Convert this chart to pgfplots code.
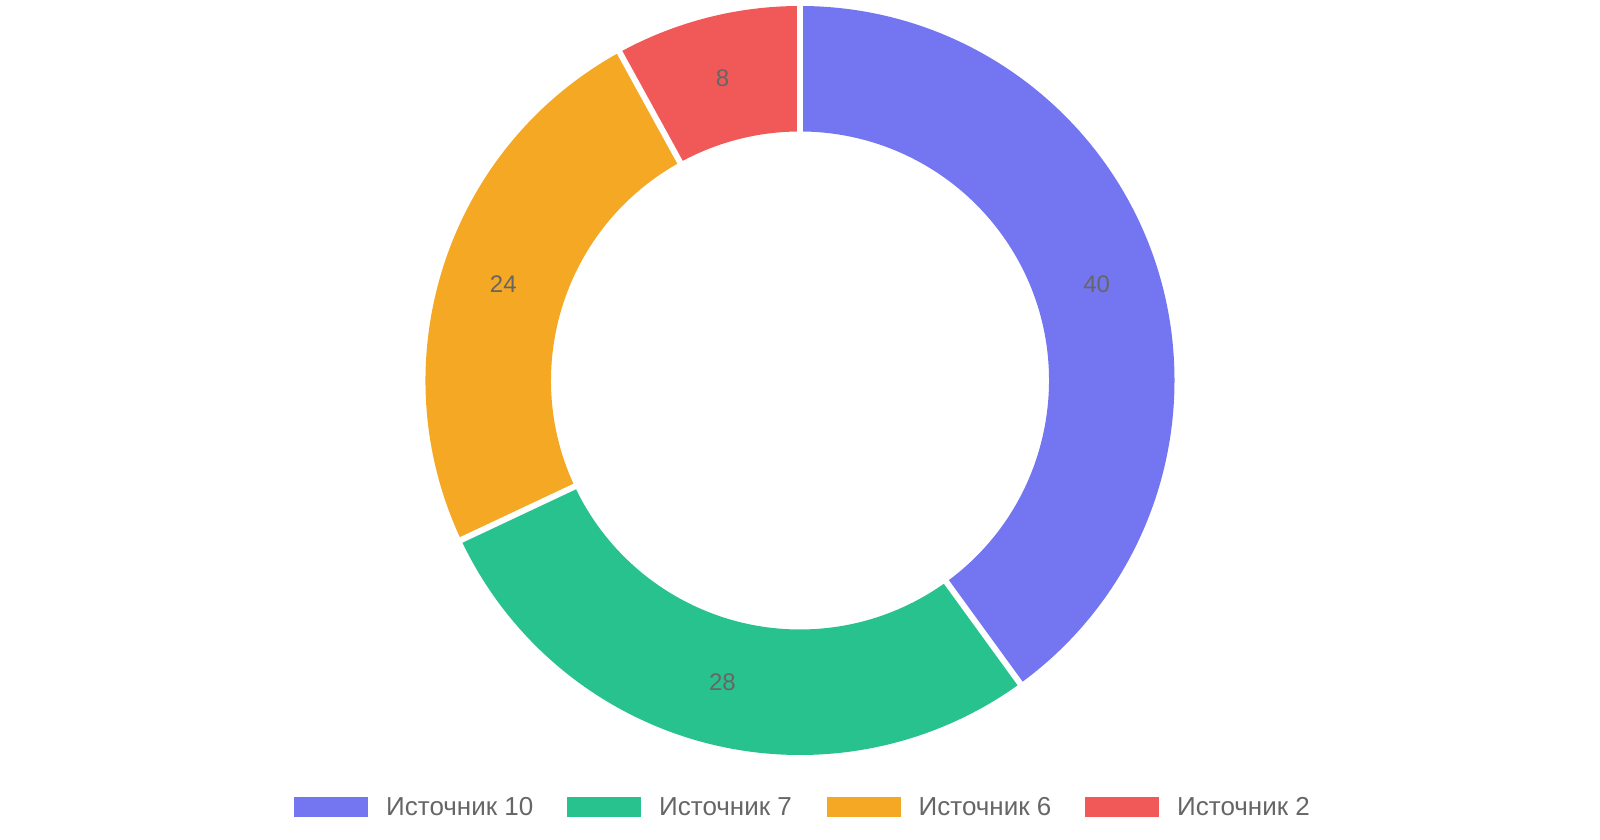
\documentclass[border=0pt]{standalone}
\usepackage{fontspec}
\setmainfont{Liberation Sans}
\usepackage{pgfplots}
\usepackage{pgfplotstable}
\pgfplotsset{compat=1.18}

\definecolor{c1}{RGB}{116,118,241}
\definecolor{c2}{RGB}{40,194,143}
\definecolor{c3}{RGB}{245,168,35}
\definecolor{c4}{RGB}{241,89,89}
\definecolor{txt}{RGB}{102,102,102}

\newcommand\legfont{\fontsize{26}{30}\selectfont}
\newcommand\labfont{\fontsize{24}{28}\selectfont}

% name, value, colour, left edge of the legend box (px)
\pgfplotstableread[col sep=comma]{
name,value,color,legx
Источник 10,40,c1,294
Источник 7,28,c2,567
Источник 6,24,c3,826.5
Источник 2,8,c4,1085
}\sources

\begin{document}
\begin{tikzpicture}
\begin{axis}[
    width=1600pt, height=840pt,
    scale only axis,
    xmin=0, xmax=1600,
    ymin=0, ymax=840,
    hide axis,
    clip=false,
]
\path (rel axis cs:0,0) rectangle (rel axis cs:1,1);

% sectors, clockwise from the top
\def\cum{0}
\pgfplotsforeachungrouped \i in {0,...,3}{
    \pgfplotstablegetelem{\i}{value}\of\sources \let\v\pgfplotsretval
    \pgfplotstablegetelem{\i}{color}\of\sources \let\col\pgfplotsretval
    \pgfplotstablegetelem{\i}{name}\of\sources \let\nm\pgfplotsretval
    \pgfplotstablegetelem{\i}{legx}\of\sources \let\lx\pgfplotsretval
    \pgfmathsetmacro\s{90-3.6*\cum}
    \pgfmathsetmacro\e{90-3.6*(\cum+\v)}
    \pgfmathsetmacro\m{(\s+\e)/2}
    \pgfmathsetmacro\lxe{\lx+74}
    \pgfmathsetmacro\tx{\lx+92}
    \edef\temp{
        \noexpand\fill[\col] ([shift={(axis cs:800,459.5)}]\s:374.5pt)
            arc[start angle=\s, end angle=\e, radius=374.5pt]
            -- ([shift={(axis cs:800,459.5)}]\e:249pt)
            arc[start angle=\e, end angle=\s, radius=249pt] -- cycle;
        \noexpand\node[text=txt, font=\noexpand\labfont]
            at ([shift={(axis cs:800,459.5)}]\m:312pt) {\v};
        \noexpand\fill[\col] (axis cs:\lx,23) rectangle (axis cs:\lxe,43);
        \noexpand\node[text=txt, font=\noexpand\legfont, anchor=base west, inner sep=0pt]
            at (axis cs:\tx,24) {\nm};
    }
    \temp
    \pgfmathsetmacro\cum{\cum+\v}
}

% white gaps between sectors
\def\cum{0}
\pgfplotsforeachungrouped \i in {0,...,3}{
    \pgfplotstablegetelem{\i}{value}\of\sources \let\v\pgfplotsretval
    \pgfmathsetmacro\s{90-3.6*\cum}
    \edef\temp{
        \noexpand\draw[white, line width=6pt]
            ([shift={(axis cs:800,459.5)}]\s:240pt) -- ([shift={(axis cs:800,459.5)}]\s:377pt);
    }
    \temp
    \pgfmathsetmacro\cum{\cum+\v}
}
\end{axis}
\end{tikzpicture}
\end{document}
